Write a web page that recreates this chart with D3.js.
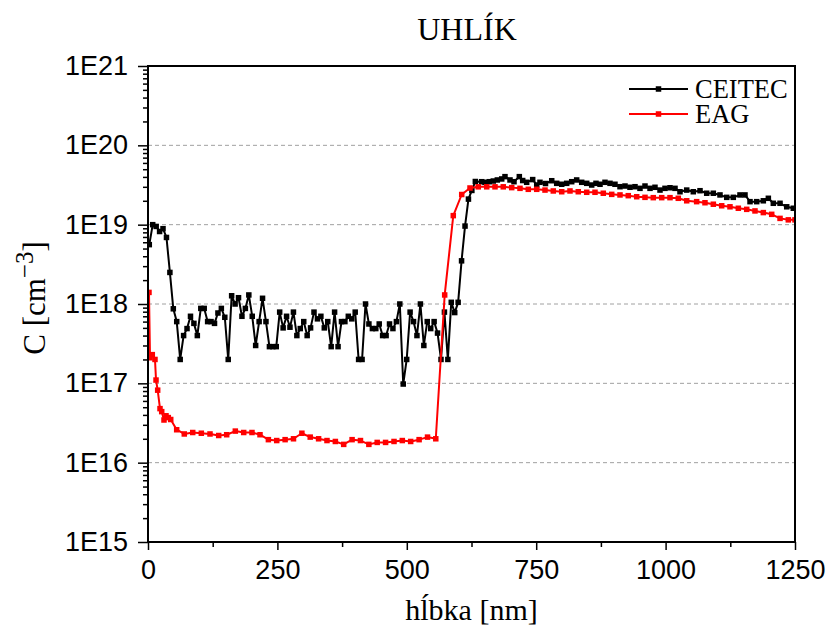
<!DOCTYPE html>
<html lang="sk">
  <head>
    <meta charset="utf-8"/>
    <title>UHLÍK</title>
    <script src="https://d3js.org/d3.v7.min.js"></script>
    <style>
      body { margin: 0; background: #fff; }
      svg { display: block; }
      .tick text { font-family: "Liberation Sans", Arial, sans-serif; }
      .serif { font-family: "Liberation Serif", "Times New Roman", serif; }
    </style>
  </head>
  <body>
    <div id="chart"></div>
    <script>
    // CEITEC profile: depth [nm] and concentration [cm^-3]
    var ceitecDepth = [
      2.5, 9.1, 15.8, 22.4, 29.0, 35.7, 42.3, 48.9, 55.5, 62.2, 68.8, 75.4, 82.1, 88.7, 95.3, 102.0,
      108.6, 115.2, 121.8, 128.5, 135.1, 141.7, 148.4, 155.0, 161.6, 168.3, 174.9, 181.5, 188.1, 194.8,
      201.4, 208.0, 214.7, 221.3, 227.9, 234.6, 241.2, 247.8, 254.4, 261.1, 267.7, 274.3, 281.0, 287.6,
      294.2, 300.9, 307.5, 314.1, 320.7, 327.4, 334.0, 340.6, 347.3, 353.9, 360.5, 367.2, 373.8, 380.4,
      387.0, 393.7, 400.3, 406.9, 413.6, 420.2, 426.8, 433.5, 440.1, 446.7, 453.3, 460.0, 466.6, 473.2,
      479.9, 486.5, 493.1, 499.8, 506.4, 513.0, 519.6, 526.3, 532.9, 539.5, 546.2, 552.8, 559.4, 566.1,
      572.7, 579.3, 585.9, 592.6, 599.2, 605.8, 612.5, 619.1, 625.7, 632.4,
      644.7, 651.1, 659.4, 667.1, 674.9, 683.4, 689.7, 699.4, 707.1, 717.4, 723.9, 731.6, 743.2, 751.0,
      757.3, 768.0, 780.0, 789.6, 799.3, 808.9, 818.6, 828.2, 837.9, 847.6, 857.2, 865.5, 873.3, 882.9,
      892.6, 902.2, 911.9, 921.6, 931.2, 940.9, 950.5, 960.2, 969.9, 979.5, 989.2, 998.8, 1008.5, 1018.2,
      1027.8, 1040.8, 1053.5, 1066.5, 1079.4, 1092.2, 1105.1, 1118.1, 1130.8, 1143.7, 1153.4, 1163.1,
      1176.0, 1188.8, 1198.5, 1208.1, 1221.1, 1234.0, 1246.7
    ];
    var ceitecConc = [
      5.6e18, 1.0e19, 9.5e18, 8.2e18, 8.9e18, 6.9e18, 2.5e18, 8.7e17, 6.0e17, 2.0e17, 4.0e17, 4.9e17,
      7.0e17, 5.7e17, 4.0e17, 8.8e17, 8.8e17, 6.0e17, 6.0e17, 5.7e17, 7.7e17, 8.8e17, 6.8e17, 2.0e17,
      1.27e18, 1.0e18, 1.2e18, 7.0e17, 8.8e17, 1.3e18, 7.0e17, 3.0e17, 6.0e17, 1.18e18, 6.0e17, 2.9e17,
      2.9e17, 2.9e17, 7.9e17, 5.0e17, 7.0e17, 5.1e17, 7.9e17, 4.0e17, 4.9e17, 6.0e17, 4.0e17, 5.0e17,
      7.9e17, 6.5e17, 7.0e17, 5.0e17, 6.0e17, 2.9e17, 7.9e17, 2.9e17, 6.0e17, 6.0e17, 7.0e17, 6.5e17,
      7.9e17, 2.0e17, 2.0e17, 1.0e18, 5.6e17, 4.9e17, 4.9e17, 5.6e17, 4.0e17, 4.0e17, 5.6e17, 4.9e17,
      6.0e17, 1.0e18, 9.8e16, 2.0e17, 7.9e17, 6.0e17, 4.0e17, 1.0e18, 3.0e17, 6.0e17, 4.9e17, 6.0e17,
      4.3e17, 2.0e17, 7.9e17, 2.0e17, 1.05e18, 7.8e17, 1.05e18, 3.5e18, 9.6e18, 2.1e19, 2.7e19, 3.5e19,
      3.48e19, 3.42e19, 3.48e19, 3.55e19, 3.66e19, 3.77e19, 4.03e19, 3.66e19, 3.48e19, 4.03e19, 3.6e19,
      3.42e19, 3.7e19, 3.16e19, 3.42e19, 3.3e19, 3.58e19, 3.32e19, 3.23e19, 3.32e19, 3.48e19, 3.66e19,
      3.42e19, 3.32e19, 3.16e19, 3.32e19, 3.23e19, 3.42e19, 3.32e19, 3.23e19, 3.01e19, 3.07e19, 2.96e19,
      3.01e19, 2.87e19, 3.07e19, 2.87e19, 2.96e19, 2.73e19, 2.87e19, 2.92e19, 2.87e19, 2.6e19, 2.73e19,
      2.6e19, 2.68e19, 2.49e19, 2.49e19, 2.37e19, 2.21e19, 2.21e19, 2.37e19, 2.37e19, 1.95e19, 1.95e19,
      2.0e19, 2.15e19, 1.86e19, 1.86e19, 1.68e19, 1.61e19
    ];

    // EAG profile
    var eagDepth = [
      1.9, 3.9, 8.3, 13.5, 15.5, 18.7, 23.2, 26.5, 30.9, 34.8, 39.2, 43.9, 55.4, 70.1, 86.4, 103.0,
      119.8, 136.6, 152.0, 168.7, 184.9, 200.9, 216.4, 232.6, 248.7, 264.9, 281.1, 297.3, 313.4, 329.6,
      345.8, 362.0, 378.1, 394.3, 410.5, 426.7, 442.8, 459.0, 475.3, 491.3, 507.5, 523.8, 540.0, 556.0,
      573.2, 589.8, 606.1, 622.1, 638.1, 654.4, 670.4, 686.4, 702.7, 718.7, 734.7, 751.0, 767.0, 783.0,
      799.3, 815.3, 831.3, 847.6, 863.6, 879.6, 895.9, 911.9, 927.9, 944.2, 960.2, 976.2, 992.5, 1008.5,
      1024.5, 1040.8, 1060.0, 1076.1, 1092.2, 1108.4, 1124.4, 1140.5, 1156.7, 1172.7, 1188.8, 1205.0,
      1221.1, 1237.1, 1250.0
    ];
    var eagConc = [
      1.4e18, 2.1e17, 2.3e17, 2.0e17, 1.1e17, 8.2e16, 4.8e16, 4.4e16, 3.45e16, 3.9e16, 3.7e16, 3.5e16,
      2.6e16, 2.3e16, 2.4e16, 2.35e16, 2.3e16, 2.2e16, 2.25e16, 2.5e16, 2.4e16, 2.4e16, 2.25e16, 1.95e16,
      1.9e16, 1.95e16, 2.0e16, 2.35e16, 2.1e16, 2.0e16, 1.9e16, 1.85e16, 1.7e16, 1.95e16, 1.9e16, 1.7e16,
      1.8e16, 1.8e16, 1.85e16, 1.9e16, 1.85e16, 1.95e16, 2.1e16, 2.0e16, 1.3e18, 1.3e19, 2.4e19, 2.9e19,
      3.0e19, 3.0e19, 3.0e19, 3.0e19, 2.93e19, 2.87e19, 2.79e19, 2.79e19, 2.73e19, 2.66e19, 2.6e19,
      2.66e19, 2.6e19, 2.56e19, 2.56e19, 2.49e19, 2.41e19, 2.37e19, 2.32e19, 2.25e19, 2.21e19, 2.19e19,
      2.19e19, 2.19e19, 2.15e19, 2.0e19, 1.95e19, 1.89e19, 1.81e19, 1.73e19, 1.68e19, 1.61e19, 1.56e19,
      1.49e19, 1.42e19, 1.35e19, 1.2e19, 1.15e19, 1.15e19
    ];

    var xTicks = [0, 250, 500, 750, 1000, 1250];
    var xMinorTicks = [125, 375, 625, 875, 1125];
    var yExponents = [15, 16, 17, 18, 19, 20, 21];
    var gridExponents = [16, 17, 18, 19, 20];
    var seriesNames = ["CEITEC", "EAG"];
    var seriesColors = ["#000000", "#ff0000"];

    var width = 832, height = 633;
    var plotLeft = 148, plotRight = 795, plotTop = 66, plotBottom = 542;

    var svg = d3.select("#chart").append("svg")
        .attr("width", width)
        .attr("height", height);

    var x = d3.scaleLinear().domain([0, 1250]).range([plotLeft, plotRight]);
    var y = d3.scaleLog().domain([1e15, 1e21]).range([plotBottom, plotTop]);

    svg.append("clipPath").attr("id", "plotClip")
      .append("rect")
        .attr("x", plotLeft).attr("y", plotTop)
        .attr("width", plotRight - plotLeft).attr("height", plotBottom - plotTop);

    // grid
    svg.append("g").selectAll("line")
      .data(gridExponents)
      .join("line")
        .attr("x1", plotLeft).attr("x2", plotRight)
        .attr("y1", function(e) { return y(Math.pow(10, e)); })
        .attr("y2", function(e) { return y(Math.pow(10, e)); })
        .attr("stroke", "#a0a0a0")
        .attr("stroke-width", 1)
        .attr("stroke-dasharray", "4,3");

    // series
    var series = [
      { name: seriesNames[0], color: seriesColors[0], depth: ceitecDepth, conc: ceitecConc },
      { name: seriesNames[1], color: seriesColors[1], depth: eagDepth, conc: eagConc }
    ];

    var line = d3.line()
      .x(function(d) { return x(d[0]); })
      .y(function(d) { return y(d[1]); });

    var plot = svg.append("g").attr("clip-path", "url(#plotClip)");
    var ms = 5.5;

    series.forEach(function(s) {
      var pts = d3.zip(s.depth, s.conc);
      plot.append("path")
        .datum(pts)
        .attr("d", line)
        .attr("fill", "none")
        .attr("stroke", s.color)
        .attr("stroke-width", 2)
        .attr("stroke-linejoin", "round");
      plot.append("g").selectAll("rect")
        .data(pts)
        .join("rect")
          .attr("x", function(d) { return x(d[0]) - ms / 2; })
          .attr("y", function(d) { return y(d[1]) - ms / 2; })
          .attr("width", ms).attr("height", ms)
          .attr("fill", s.color);
    });

    // axes
    svg.append("g")
      .attr("transform", "translate(0," + plotBottom + ")")
      .call(d3.axisBottom(x).tickValues(xTicks).tickFormat(d3.format("d"))
        .tickSize(8).tickSizeOuter(0).tickPadding(10));
    svg.append("g")
      .attr("transform", "translate(0," + plotBottom + ")")
      .call(d3.axisBottom(x).tickValues(xMinorTicks).tickSize(5).tickSizeOuter(0).tickFormat(""));

    var minorY = [];
    yExponents.slice(0, -1).forEach(function(e) {
      for (var k = 2; k < 10; k++) minorY.push(k * Math.pow(10, e));
    });

    svg.append("g")
      .attr("transform", "translate(" + plotLeft + ",0)")
      .call(d3.axisLeft(y)
        .tickValues(yExponents.map(function(e) { return Math.pow(10, e); }))
        .tickFormat(function(v) { return "1E" + Math.round(Math.log10(v)); })
        .tickSize(10).tickSizeOuter(0).tickPadding(10));
    svg.append("g")
      .attr("transform", "translate(" + plotLeft + ",0)")
      .call(d3.axisLeft(y).tickValues(minorY).tickFormat("").tickSize(5).tickSizeOuter(0));

    svg.selectAll(".domain").remove();
    svg.selectAll(".tick line").attr("stroke", "#000").attr("stroke-width", 1.5);
    svg.selectAll(".tick text")
      .attr("fill", "#000")
      .style("font-size", "27px");

    // frame
    svg.append("rect")
      .attr("x", plotLeft).attr("y", plotTop)
      .attr("width", plotRight - plotLeft).attr("height", plotBottom - plotTop)
      .attr("fill", "none")
      .attr("stroke", "#000")
      .attr("stroke-width", 2);

    // title and labels
    svg.append("text")
      .attr("class", "serif")
      .attr("x", 467).attr("y", 40)
      .attr("text-anchor", "middle")
      .style("font-size", "32px")
      .text("UHLÍK");

    svg.append("text")
      .attr("class", "serif")
      .attr("x", (plotLeft + plotRight) / 2).attr("y", 620)
      .attr("text-anchor", "middle")
      .style("font-size", "30px")
      .text("hĺbka [nm]");

    var yLabel = svg.append("text")
      .attr("class", "serif")
      .attr("transform", "translate(45,298) rotate(-90)")
      .attr("text-anchor", "middle")
      .style("font-size", "31px");
    yLabel.append("tspan").text("C [cm");
    yLabel.append("tspan").attr("dy", -12).style("font-size", "25px").text("\u22123");
    yLabel.append("tspan").attr("dy", 12).text("]");

    // legend
    var legend = svg.append("g");
    series.forEach(function(s, i) {
      var ly = 89 + i * 25;
      legend.append("line")
        .attr("x1", 629).attr("x2", 688)
        .attr("y1", ly).attr("y2", ly)
        .attr("stroke", s.color).attr("stroke-width", 2);
      legend.append("rect")
        .attr("x", 658.5 - ms / 2).attr("y", ly - ms / 2)
        .attr("width", ms).attr("height", ms)
        .attr("fill", s.color);
      legend.append("text")
        .attr("class", "serif")
        .attr("x", 695).attr("y", ly + 8.5)
        .style("font-size", "26.5px")
        .text(s.name);
    });
    </script>
  </body>
</html>
